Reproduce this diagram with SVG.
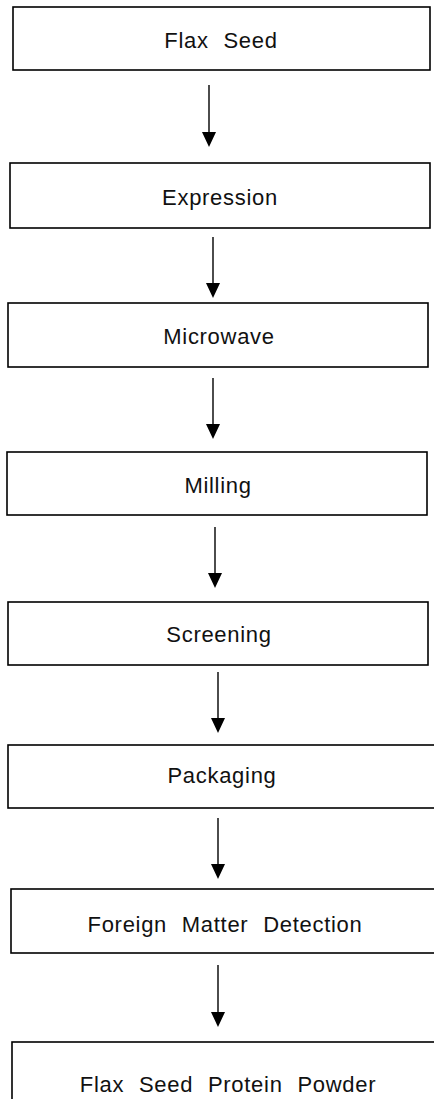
<svg xmlns="http://www.w3.org/2000/svg" width="434" height="1099" viewBox="0 0 434 1099">
<style>
.box{fill:#fff;stroke:#000;stroke-width:1.6}
.lbl{font-family:"Liberation Sans",Arial,sans-serif;font-size:22px;letter-spacing:0.7px;word-spacing:8px;fill:#111;text-anchor:middle}
.conn line{stroke:#000;stroke-width:1.4}
.conn path{fill:#000}
</style>
<rect width="434" height="1099" fill="#fff"/>
<g id="n1"><rect class="box" x="13" y="7" width="417" height="63"/><text class="lbl" x="221" y="48">Flax Seed</text></g>
<g id="n2"><rect class="box" x="10" y="163" width="420" height="65"/><text class="lbl" x="220" y="205">Expression</text></g>
<g id="n3"><rect class="box" x="8" y="303" width="420" height="64"/><text class="lbl" x="219" y="344">Microwave</text></g>
<g id="n4"><rect class="box" x="7" y="452" width="420" height="63"/><text class="lbl" x="218" y="493">Milling</text></g>
<g id="n5"><rect class="box" x="8" y="602" width="420" height="63"/><text class="lbl" x="219" y="642">Screening</text></g>
<g id="n6"><rect class="box" x="8" y="745" width="440" height="63"/><text class="lbl" x="222" y="783">Packaging</text></g>
<g id="n7"><rect class="box" x="11" y="889" width="440" height="64"/><text class="lbl" x="225" y="932">Foreign Matter Detection</text></g>
<g id="n8"><rect class="box" x="12" y="1042" width="440" height="80"/><text class="lbl" x="228" y="1092">Flax Seed Protein Powder</text></g>
<g id="connectors" class="conn">
<line x1="209" y1="85" x2="209" y2="133"/><path d="M202,132 L216,132 L209,147 Z"/>
<line x1="213" y1="237" x2="213" y2="284"/><path d="M206,283 L220,283 L213,298 Z"/>
<line x1="213" y1="378" x2="213" y2="425"/><path d="M206,424 L220,424 L213,439 Z"/>
<line x1="215" y1="527" x2="215" y2="574"/><path d="M208,573 L222,573 L215,588 Z"/>
<line x1="218" y1="672" x2="218" y2="719"/><path d="M211,718 L225,718 L218,733 Z"/>
<line x1="218" y1="818" x2="218" y2="865"/><path d="M211,864 L225,864 L218,879 Z"/>
<line x1="218" y1="965" x2="218" y2="1013"/><path d="M211,1012 L225,1012 L218,1027 Z"/>
</g>
</svg>
